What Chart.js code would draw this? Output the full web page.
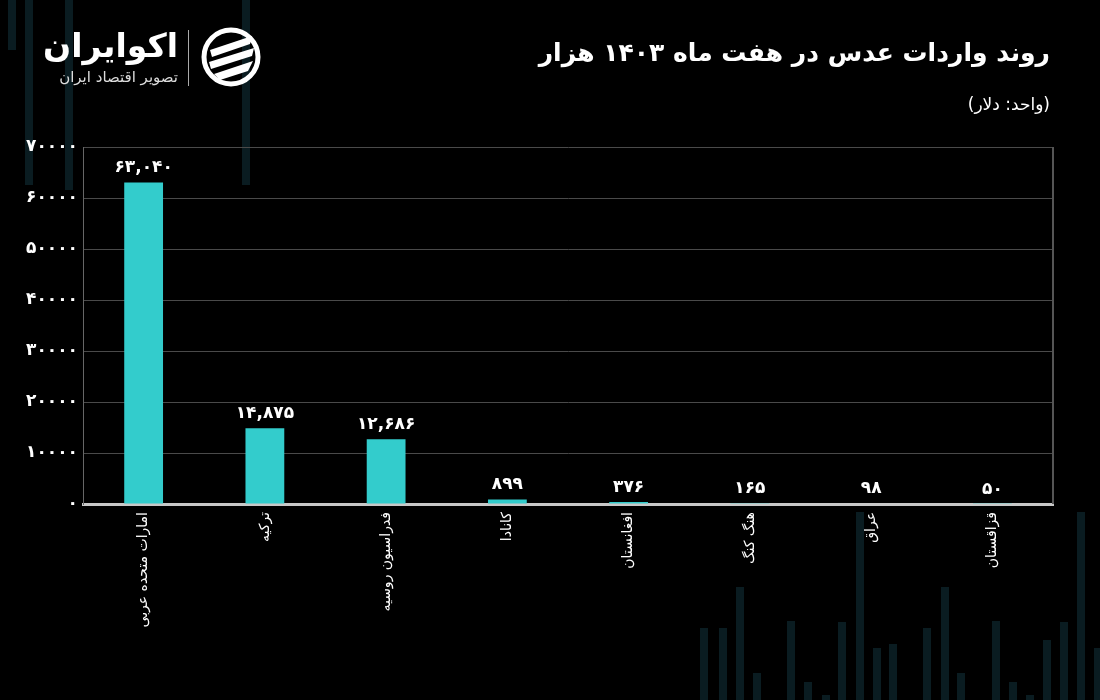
<!DOCTYPE html>
<html lang="fa">
<head>
<meta charset="utf-8">
<script src="https://cdn.jsdelivr.net/npm/chart.js@4.4.1/dist/chart.umd.min.js"></script>
<style>
  html, body { margin: 0; padding: 0; background: #000; }
  #wrap { position: relative; width: 1100px; height: 700px; overflow: hidden; background: #000; font-family: "DejaVu Sans", sans-serif; }
  .stripe { position: absolute; width: 8px; background: #0a1c21; }
  #chartBox { position: absolute; left: 0; top: 0; width: 1100px; height: 700px; }
  #title { position: absolute; right: 50px; top: 38px; color: #fff; font-weight: bold; font-size: 25px; direction: rtl; white-space: nowrap; }
  #unit { position: absolute; right: 50px; top: 94px; color: #fff; font-size: 17px; direction: rtl; white-space: nowrap; }
  #brand { position: absolute; left: 38px; top: 26px; color: #fff; direction: rtl; text-align: right; width: 140px; }
  #brand .name { font-weight: bold; font-size: 33px; line-height: 40px; }
  #brand .tag { font-size: 15px; color: #ddd; line-height: 22px; }
  #sep { position: absolute; left: 188px; top: 30px; width: 1px; height: 56px; background: #aaa; }
  #icon { position: absolute; left: 200px; top: 26px; }
</style>
</head>
<body>
<div id="wrap">
  <div id="stripes"></div>
  <div id="chartBox"><canvas id="lentilChart" width="1100" height="700"></canvas></div>
  <div id="brand"><div class="name">اکوایران</div><div class="tag">تصویر اقتصاد ایران</div></div>
  <div id="sep"></div>
  <svg id="icon" width="62" height="62" viewBox="0 0 62 62">
    <circle cx="31" cy="31" r="27" fill="none" stroke="#fff" stroke-width="5"/>
    <path d="M10 24 L52 10 L50 18 L12 31 Z" fill="#fff"/>
    <path d="M9 36 L54 22 L52 30 L11 43 Z" fill="#fff"/>
    <path d="M14 48 L53 35 L48 45 L20 54 Z" fill="#fff"/>
  </svg>
  <div id="title">روند واردات عدس در هفت ماه ۱۴۰۳ هزار</div>
  <div id="unit">(واحد: دلار)</div>
</div>
<script>
// داده‌ها
const categories = ['امارات متحده عربی', 'ترکیه', 'فدراسیون روسیه', 'کانادا', 'افغانستان', 'هنگ کنگ', 'عراق', 'قزاقستان'];
const imports = [63040, 14875, 12686, 899, 376, 165, 98, 50];
const yTicks = [0, 10000, 20000, 30000, 40000, 50000, 60000, 70000];

// نوارهای تزئینی پس‌زمینه
const stripeX = [8, 25, 65, 242, 700, 719, 736, 753, 787, 804, 822, 838, 856, 873, 889, 923, 941, 957, 992, 1009, 1026, 1043, 1060, 1077, 1094];
const stripeTop = [0, 0, 0, 0, 628, 628, 587, 673, 621, 682, 695, 622, 512, 648, 644, 628, 587, 673, 621, 682, 695, 640, 622, 512, 648];
const stripeBottom = [50, 185, 190, 185, 700, 700, 700, 700, 700, 700, 700, 700, 700, 700, 700, 700, 700, 700, 700, 700, 700, 700, 700, 700, 700];

const stripesEl = document.getElementById('stripes');
stripeX.forEach(function (x, i) {
    const d = document.createElement('div');
    d.className = 'stripe';
    d.style.left = x + 'px';
    d.style.top = stripeTop[i] + 'px';
    d.style.height = (stripeBottom[i] - stripeTop[i]) + 'px';
    stripesEl.appendChild(d);
});

const faDigits = '۰۱۲۳۴۵۶۷۸۹';
function toFa(str) {
    return String(str).replace(/[0-9]/g, function (d) { return faDigits[d]; });
}
function withComma(n) {
    return toFa(n.toString().replace(/\B(?=(\d{3})+(?!\d))/g, ','));
}

// برچسب مقادیر بالای ستون‌ها و خط سمت راست
const valueLabels = {
    id: 'valueLabels',
    afterDatasetsDraw(chart) {
        const ctx = chart.ctx;
        const area = chart.chartArea;
        ctx.save();
        ctx.strokeStyle = '#555';
        ctx.lineWidth = 2;
        ctx.beginPath();
        ctx.moveTo(area.right, area.top);
        ctx.lineTo(area.right, area.bottom);
        ctx.stroke();

        ctx.fillStyle = '#fff';
        ctx.font = 'bold 17px "DejaVu Sans"';
        ctx.textAlign = 'center';
        ctx.textBaseline = 'bottom';
        chart.getDatasetMeta(0).data.forEach(function (bar, i) {
            ctx.fillText(withComma(imports[i]), bar.x, bar.y - 6);
        });
        ctx.restore();
    }
};

const ctx = document.getElementById('lentilChart').getContext('2d');
new Chart(ctx, {
    type: 'bar',
    data: {
        labels: categories,
        datasets: [{
            data: imports,
            backgroundColor: '#33cccc',
            barPercentage: 0.32,
            categoryPercentage: 1
        }]
    },
    plugins: [valueLabels],
    options: {
        responsive: false,
        animation: false,
        layout: { padding: { top: 147, right: 47, left: 0, bottom: 0 } },
        plugins: {
            legend: { display: false },
            tooltip: { enabled: false }
        },
        scales: {
            x: {
                afterFit(scale) { scale.height = 196; },
                grid: { display: false, drawTicks: false },
                border: { color: '#c8c8c8', width: 3 },
                ticks: {
                    color: '#fff',
                    font: { family: 'DejaVu Sans', size: 14 },
                    minRotation: 90,
                    maxRotation: 90,
                    padding: 8,
                    autoSkip: false
                }
            },
            y: {
                min: 0,
                max: 70000,
                afterFit(scale) { scale.width = 83; },
                afterBuildTicks(scale) { scale.ticks = yTicks.map(function (v) { return { value: v }; }); },
                grid: { color: '#4a4a4a', lineWidth: 1, drawTicks: false },
                border: { color: '#666', width: 1 },
                ticks: {
                    color: '#fff',
                    font: { family: 'DejaVu Sans', size: 17, weight: 'bold' },
                    padding: 5,
                    callback: function (v) { return toFa(v); }
                }
            }
        }
    }
});
</script>
</body>
</html>
